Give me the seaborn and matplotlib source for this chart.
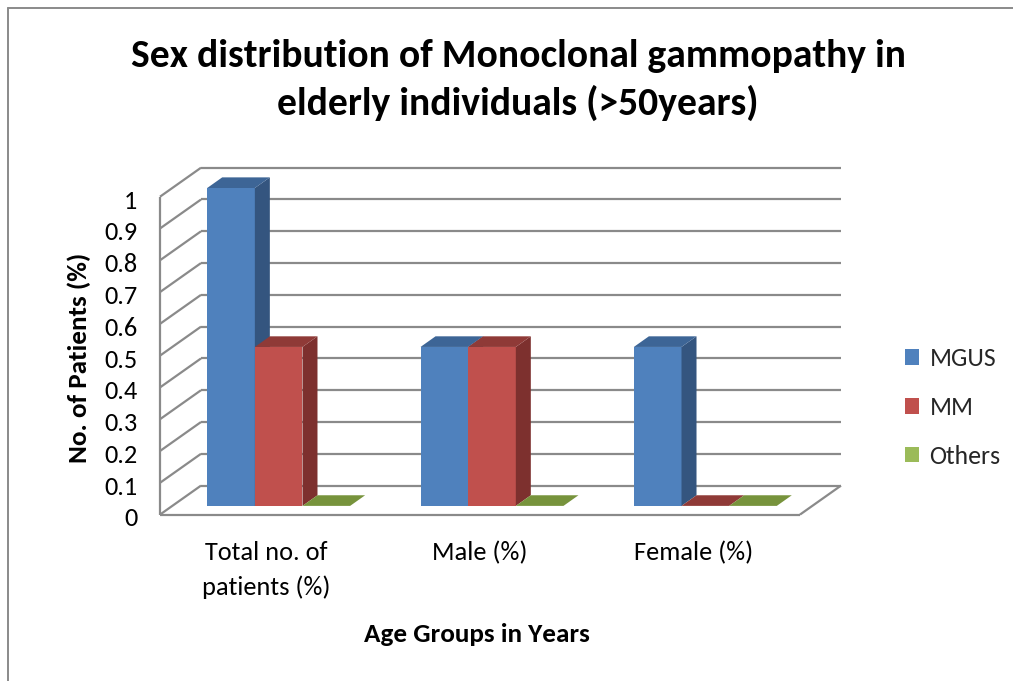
import numpy as np
import pandas as pd
import matplotlib
matplotlib.use("Agg")
import matplotlib.pyplot as plt
import seaborn as sns
from matplotlib.patches import Polygon
from matplotlib.lines import Line2D
from matplotlib import font_manager as fm

# ---------------- data ----------------
categories = ["Total no. of\npatients (%)", "Male (%)", "Female (%)"]
series = ["MGUS", "MM", "Others"]
mgus = [1.0, 0.5, 0.5]
mm = [0.5, 0.5, 0.0]
others = [0.0, 0.0, 0.0]
yticks = [0, 0.1, 0.2, 0.3, 0.4, 0.5, 0.6, 0.7, 0.8, 0.9, 1.0]
ytick_labels = ["0", "0.1", "0.2", "0.3", "0.4", "0.5", "0.6", "0.7", "0.8", "0.9", "1"]
title = "Sex distribution of Monoclonal gammopathy in\nelderly individuals (>50years)"
xlabel = "Age Groups in Years"
ylabel = "No. of Patients (%)"

front_colors = ["#4F81BD", "#C0504D", "#9BBB59"]
side_colors = ["#34557F", "#7D302E", "#627A36"]
top_colors = ["#3D6596", "#8F3A37", "#77933C"]
grid_color = "#8A8A8A"

df = pd.DataFrame({
    "category": categories * 3,
    "series": [s for s in series for _ in categories],
    "value": mgus + mm + others,
})

sns.set_theme(style="white")
avail = {f.name for f in fm.fontManager.ttflist}
fam = next(f for f in ["Carlito", "Lato", "DejaVu Sans"] if f in avail)
plt.rcParams["font.family"] = [fam, "DejaVu Sans"]

W, H = 1013, 681
fig = plt.figure(figsize=(W / 100, H / 100), dpi=100)
fig.patch.set_facecolor("white")
L, R, Y0, Y1 = 172, 812, 517, 188
ax = fig.add_axes([L / W, 1 - Y0 / H, (R - L) / W, (Y0 - Y1) / H])

sns.barplot(data=df, x="category", y="value", hue="series", order=categories,
            hue_order=series, palette=front_colors, width=0.67, gap=0,
            saturation=1, errorbar=None, linewidth=0, edgecolor="none", ax=ax)
ax.set_xlim(-0.5, 2.5)
ax.set_ylim(0, 1)
ax.set_facecolor("none")
for s in ax.spines.values():
    s.set_visible(False)
ax.grid(False)

inv = ax.transData.inverted()
def off(dxp, dyp):
    p0 = inv.transform((0, 0))
    p1 = inv.transform((dxp, dyp))
    return p1[0] - p0[0], p1[1] - p0[1]

BX, BY = off(29, 21)   # back wall
FX, FY = off(-12, -9)  # front edge
DX, DY = off(15, 11)   # bar depth
_, LY = off(0, -2.5)   # tick label nudge

lkw = dict(color=grid_color, lw=1.6, clip_on=False, solid_capstyle="butt")
for t in yticks:
    ax.plot([-0.5 + BX, 2.5 + BX], [t + BY, t + BY], zorder=1, **lkw)
    ax.plot([-0.5 + FX, -0.5 + BX], [t + FY, t + BY], zorder=1, **lkw)
ax.plot([-0.5 + FX, -0.5 + FX], [FY, 1 + FY], zorder=1, **lkw)
ax.plot([-0.5 + FX, 2.5 + FX], [FY, FY], zorder=1, **lkw)
ax.plot([2.5 + FX, 2.5 + BX], [FY, BY], zorder=1, **lkw)

# 3D faces for each bar
bars = []
for si, cont in enumerate(ax.containers):
    for p in cont.patches:
        bars.append((p.get_x(), si, p))
bars.sort(key=lambda b: b[0])
for k, (x0, si, p) in enumerate(bars):
    w, h = p.get_width(), p.get_height()
    z = 3 + k * 0.1
    p.set_zorder(z)
    p.set_clip_on(False)
    x1 = x0 + w
    if h > 0:
        ax.add_patch(Polygon([(x1, 0), (x1, h), (x1 + DX, h + DY), (x1 + DX, DY)],
                             closed=True, facecolor=side_colors[si], edgecolor="none",
                             zorder=z + 0.01, clip_on=False))
    ax.add_patch(Polygon([(x0, h), (x1, h), (x1 + DX, h + DY), (x0 + DX, h + DY)],
                         closed=True, facecolor=top_colors[si], edgecolor="none",
                         zorder=z + 0.02, clip_on=False))

ax.set_xticks([i + FX for i in range(len(categories))], categories)
ax.set_yticks([t + FY + LY for t in yticks], ytick_labels)
ax.tick_params(axis="x", length=0, pad=17, labelsize=19, colors="black")
ax.tick_params(axis="y", length=0, pad=25, labelsize=19, colors="black")
for lbl in ax.get_xticklabels():
    lbl.set_linespacing(1.6)

ax.set_xlabel(xlabel, fontsize=19.5, fontweight="bold", color="black")
ax.set_ylabel(ylabel, fontsize=19.5, fontweight="bold", color="black")
ax.xaxis.label.set_va("center")
ax.yaxis.label.set_va("center")
ax.xaxis.set_label_coords((477 - L) / (R - L), (Y0 - 635) / (Y0 - Y1))
ax.yaxis.set_label_coords((79 - L) / (R - L), (Y0 - 358) / (Y0 - Y1))

handles, labels = ax.get_legend_handles_labels()
if ax.get_legend() is not None:
    ax.get_legend().remove()
fig.legend(handles, labels, loc="center left", bbox_to_anchor=(905 / W, 1 - 407.5 / H),
           frameon=False, fontsize=18.5, handlelength=0.55, handleheight=0.55,
           handletextpad=0.4, labelspacing=1.0, borderpad=0, borderaxespad=0)

fig.text(518 / W, 1 - 80 / H, title, ha="center", va="center", fontsize=28.5,
         fontweight="bold", linespacing=1.42, color="black")

fig.add_artist(Line2D([7.5 / W, 7.5 / W], [0, 1 - 7.5 / H], color="#8A8A8A", lw=1.4))
fig.add_artist(Line2D([7.5 / W, 1], [1 - 7.5 / H, 1 - 7.5 / H], color="#8A8A8A", lw=1.4))

fig.savefig("out.png", dpi=100, facecolor="white")
